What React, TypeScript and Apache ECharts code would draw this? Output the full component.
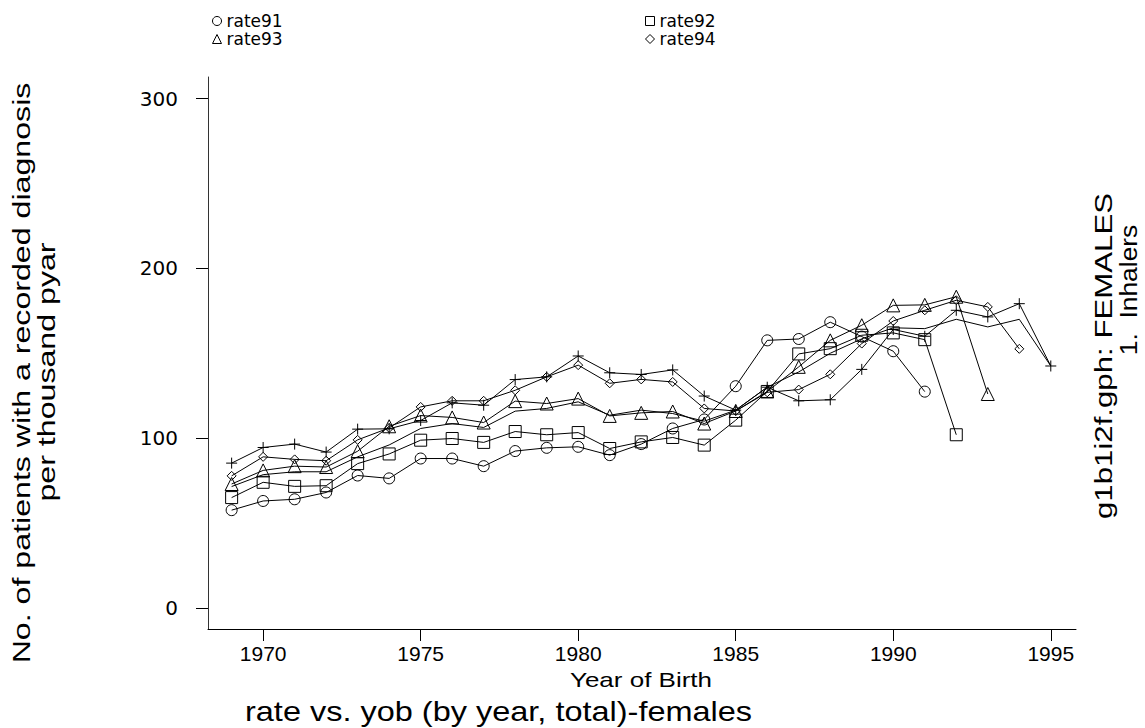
import React, { useEffect, useRef } from "react";
import * as echarts from "echarts";

const years = [1969,1970,1971,1972,1973,1974,1975,1976,1977,1978,1979,1980,1981,1982,1983,1984,1985,1986,1987,1988,1989,1990,1991,1992,1993,1994,1995];

const rate91 = [57.6,63,64,68,78,76.3,88,88,83.5,92.4,94.3,94.9,90,96.5,105.7,111,130.6,157.6,158.4,168.3,159.8,151.2,127.4];
const rate92 = [65,74,71.6,72,85,90.7,98.8,99.8,97.5,103.9,102,103.3,93.9,97.8,100.4,95.9,110.6,127.5,149.6,152.7,160.6,162,158,102];
const rate93 = [73,81,83.5,83,92.3,107,113.3,112.2,109.2,121.8,120.4,123.3,113.1,114.9,115.7,108.6,116,127.5,142,157.6,166.5,178.2,178.5,183.3,126];
const rate94 = [77.8,89,87.5,86.7,99,106,118.4,122,122,128.2,136.1,143,132.3,134.6,133.1,117.5,116,127,128.6,137.6,155.7,169,175.3,181.2,177.3,152.6];
const rate95 = [85.3,94.5,96.5,91.8,105.3,105.5,110.4,120.8,119.4,134.5,136.1,148.4,138.5,137.5,140.2,124.8,116.5,130,122,122.6,140.5,164,160,175.3,171.4,179.2,142.5];
const total = [71.5,78.5,80.2,80.2,89,96,105.7,108.6,106.3,115.9,117.5,121.4,113.5,116.5,114.5,110,116.5,130,139,150,158.5,165,164.5,170,165.5,170,142.5];

const xTicks = [1970,1975,1980,1985,1990,1995];
const yTicks = [0,100,200,300];

const pair = (vals: number[]) => vals.map((v, i) => [years[i], v]);

const PLUS = "path://M0,5.5L11,5.5M5.5,0L5.5,11";

export default function App() {
  const ref = useRef<HTMLDivElement>(null);
  useEffect(() => {
    if (!ref.current) return;
    const chart = echarts.init(ref.current, null, { renderer: "svg" });
    const hollow = { color: "transparent", borderColor: "#000", borderWidth: 1 };
    const mk = (name: string, vals: number[], symbol: string, size: number) => ({
      name,
      type: "line",
      data: pair(vals),
      symbol,
      symbolSize: size,
      lineStyle: { color: "#000", width: 1 },
      itemStyle: hollow,
      emphasis: { disabled: true },
      z: 3,
    });
    const legendBase = {
      orient: "vertical",
      top: 7,
      itemGap: 0,
      itemWidth: 9,
      itemHeight: 9,
      itemStyle: hollow,
      textStyle: { fontFamily: "DejaVu Sans", fontSize: 17, color: "#000", lineHeight: 18 },
      selectedMode: false,
    };
    chart.setOption({
      animation: false,
      backgroundColor: "#fff",
      grid: { left: 208, right: 69, top: 77, bottom: 99 },
      legend: [
        { ...legendBase, left: 207, data: [{ name: "rate91", icon: "circle" }, { name: "rate93", icon: "triangle" }] },
        { ...legendBase, left: 640, data: [{ name: "rate92", icon: "rect" }, { name: "rate94", icon: "diamond" }] },
      ],
      xAxis: {
        type: "value",
        min: 1968.25,
        max: 1995.8,
        axisLine: { onZero: false, lineStyle: { color: "#000", width: 1 } },
        axisTick: { customValues: xTicks, length: 12, lineStyle: { color: "#000" } },
        axisLabel: {
          customValues: xTicks,
          formatter: (v: number) => String(v),
          fontFamily: "Liberation Sans",
          fontSize: 21,
          color: "#000",
          margin: 14,
        },
        splitLine: { show: false },
      },
      yAxis: {
        type: "value",
        min: -12.4,
        max: 312.7,
        axisLine: { show: true, lineStyle: { color: "#333", width: 1 } },
        axisTick: { show: true, customValues: yTicks, length: 12, lineStyle: { color: "#000" } },
        axisLabel: { customValues: yTicks, fontFamily: "DejaVu Sans", fontSize: 20, color: "#000", margin: 30 },
        splitLine: { show: false },
      },
      series: [
        mk("rate91", rate91, "circle", 11),
        mk("rate92", rate92, "rect", 12),
        mk("rate93", rate93, "triangle", 13),
        mk("rate94", rate94, "diamond", 9),
        mk("rate95", rate95, PLUS, 11),
        mk("total", total, "none", 1),
      ],
      graphic: [
        {
          type: "text", x: 22, y: 373, rotation: Math.PI / 2, scaleX: 1.34,
          style: { text: "No. of patients with a recorded diagnosis", fontFamily: "Liberation Sans", fontSize: 24, fill: "#000", align: "center", verticalAlign: "middle" },
        },
        {
          type: "text", x: 47, y: 372, rotation: Math.PI / 2, scaleX: 1.34,
          style: { text: "per thousand pyar", fontFamily: "Liberation Sans", fontSize: 24, fill: "#000", align: "center", verticalAlign: "middle" },
        },
        {
          type: "text", x: 1104, y: 356, rotation: Math.PI / 2, scaleX: 1.3,
          style: { text: "g1b1i2f.gph: FEMALES", fontFamily: "Liberation Sans", fontSize: 24, fill: "#000", align: "center", verticalAlign: "middle" },
        },
        {
          type: "text", x: 1128, y: 290, rotation: Math.PI / 2, scaleX: 1.1,
          style: { text: "1.  Inhalers", fontFamily: "Liberation Sans", fontSize: 24, fill: "#000", align: "center", verticalAlign: "middle" },
        },
        {
          type: "text", x: 641, y: 680, scaleX: 1.3,
          style: { text: "Year of Birth", fontFamily: "Liberation Sans", fontSize: 20, fill: "#000", align: "center", verticalAlign: "middle" },
        },
        {
          type: "text", x: 245, y: 711, scaleX: 1.16,
          style: { text: "rate vs. yob (by year, total)-females", fontFamily: "Liberation Sans", fontSize: 28, fill: "#000", align: "left", verticalAlign: "middle" },
        },
      ],
    });
    return () => chart.dispose();
  }, []);
  return <div ref={ref} style={{ position: "fixed", left: 0, top: 0, width: 1145, height: 728, background: "#fff" }} />;
}
